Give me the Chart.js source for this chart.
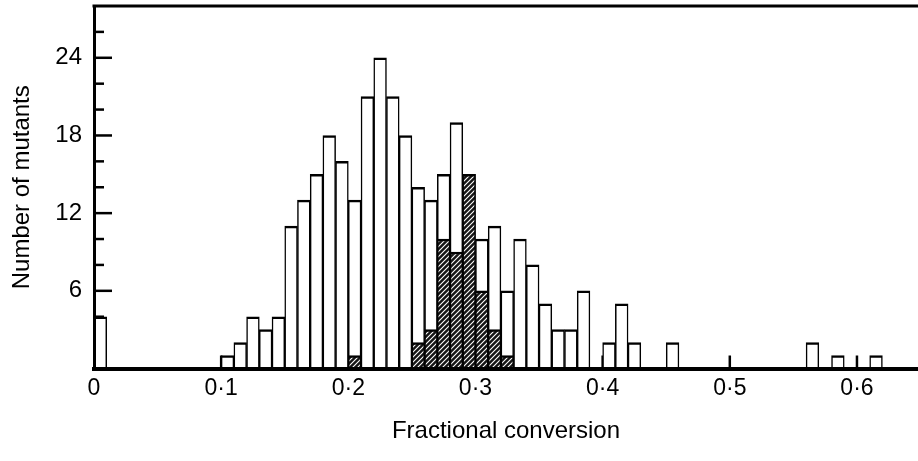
<!DOCTYPE html>
<html>
<head>
<meta charset="utf-8">
<script src="https://cdn.jsdelivr.net/npm/chart.js@4.4.1/dist/chart.umd.min.js"></script>
<style>
    body { margin: 0; background: #fff; }
    #box { width: 918px; height: 461px; }
</style>
</head>
<body>
<div id="box"><canvas id="histograma"></canvas></div>
<script>
// left edge of each 0.01-wide bin that has mutants
const bins = [0.00,
    0.10, 0.11, 0.12, 0.13, 0.14, 0.15, 0.16, 0.17, 0.18, 0.19,
    0.20, 0.21, 0.22, 0.23, 0.24, 0.25, 0.26, 0.27, 0.28, 0.29,
    0.30, 0.31, 0.32, 0.33, 0.34, 0.35, 0.36, 0.37, 0.38,
    0.40, 0.41, 0.42, 0.45, 0.56, 0.58, 0.61];
const todosMutantes = [4,
    1, 2, 4, 3, 4, 11, 13, 15, 18, 16,
    13, 21, 24, 21, 18, 14, 13, 15, 19, 15,
    10, 11, 6, 10, 8, 5, 3, 3, 6,
    2, 5, 2, 2, 2, 1, 1];

// shaded part of the bars
const binsHachurados = [0.20, 0.25, 0.26, 0.27, 0.28, 0.29, 0.30, 0.31, 0.32];
const mutantesHachurados = [1, 2, 3, 10, 9, 15, 6, 3, 1];

const ticksX = [0.1, 0.2, 0.3, 0.4, 0.5, 0.6];
const ticksYMaiores = [6, 12, 18, 24];
const ticksYMenores = [2, 4, 8, 10, 14, 16, 20, 22, 26];

const fonte = '"Liberation Sans", Arial, sans-serif';

const canvas = document.getElementById('histograma');
const ctxPrincipal = canvas.getContext('2d');

function criarHachura() {
    const c = document.createElement('canvas');
    c.width = 5;
    c.height = 5;
    const g = c.getContext('2d');
    g.fillStyle = '#151515';
    g.fillRect(0, 0, 5, 5);
    g.strokeStyle = '#fff';
    g.lineWidth = 1.1;
    g.beginPath();
    g.moveTo(0, 5); g.lineTo(5, 0);
    g.moveTo(-2.5, 2.5); g.lineTo(2.5, -2.5);
    g.moveTo(2.5, 7.5); g.lineTo(7.5, 2.5);
    g.stroke();
    return ctxPrincipal.createPattern(c, 'repeat');
}

function montarPontos(xs, ys) {
    return xs.map((b, i) => ({ x: b + 0.005, y: ys[i] }));
}

// ticks pointing into the plot, drawn under the bars
const marcasInternas = {
    id: 'marcasInternas',
    beforeDatasetsDraw(chart) {
        const { ctx, chartArea, scales: { x, y } } = chart;
        ctx.save();
        ctx.strokeStyle = '#000';
        ctx.lineWidth = 2.5;
        const marcaY = (v, len) => {
            const py = y.getPixelForValue(v);
            ctx.beginPath();
            ctx.moveTo(chartArea.left, py);
            ctx.lineTo(chartArea.left + len, py);
            ctx.stroke();
        };
        ticksYMaiores.forEach(v => marcaY(v, 18));
        ticksYMenores.forEach(v => marcaY(v, 10));
        ticksX.forEach(v => {
            const px = x.getPixelForValue(v);
            ctx.beginPath();
            ctx.moveTo(px, chartArea.bottom);
            ctx.lineTo(px, chartArea.bottom - 13);
            ctx.stroke();
        });
        ctx.restore();
    },
    afterDraw(chart) {
        const { ctx, chartArea } = chart;
        ctx.save();
        ctx.strokeStyle = '#000';
        ctx.lineWidth = 3;
        ctx.beginPath();
        ctx.moveTo(chartArea.left - 1.5, chartArea.top);
        ctx.lineTo(chartArea.right, chartArea.top);
        ctx.stroke();
        ctx.restore();
    }
};

const config = {
    type: 'bar',
    data: {
        datasets: [
            {
                label: 'hachurado',
                data: montarPontos(binsHachurados, mutantesHachurados),
                backgroundColor: criarHachura(),
                borderColor: '#000',
                borderWidth: { left: 1.5, right: 1.5, top: 2.5, bottom: 0 },
                borderSkipped: 'start',
                grouped: false,
                barPercentage: 1,
                categoryPercentage: 1
            },
            {
                label: 'total',
                data: montarPontos(bins, todosMutantes),
                backgroundColor: '#fff',
                borderColor: '#000',
                borderWidth: { left: 1.5, right: 1.5, top: 2.5, bottom: 0 },
                borderSkipped: 'start',
                grouped: false,
                barPercentage: 1,
                categoryPercentage: 1
            }
        ]
    },
    options: {
        responsive: true,
        maintainAspectRatio: false,
        animation: false,
        layout: { padding: { top: 6, right: 0, bottom: 0, left: 0 } },
        plugins: {
            legend: { display: false },
            tooltip: { enabled: false }
        },
        scales: {
            x: {
                type: 'linear',
                min: 0,
                max: 0.648,
                offset: false,
                afterFit: (s) => { s.height = 92.5; s.paddingLeft = 0; s.paddingRight = 0; },
                grid: { display: true, offset: false, drawOnChartArea: false, drawTicks: false },
                border: { display: true, color: '#000', width: 4, z: 1 },
                ticks: {
                    stepSize: 0.1,
                    includeBounds: false,
                    autoSkip: false,
                    maxRotation: 0,
                    padding: 6,
                    color: '#000',
                    font: { family: fonte, size: 23 },
                    callback: (v) => {
                        const d = Math.round(v * 10);
                        return d === 0 ? '0' : '0·' + d;
                    }
                },
                title: {
                    display: true,
                    text: 'Fractional conversion',
                    color: '#000',
                    font: { family: fonte, size: 24 },
                    padding: { top: 0, bottom: 15 }
                }
            },
            y: {
                min: 0,
                max: 28,
                afterFit: (s) => { s.width = 94; s.paddingTop = 0; s.paddingBottom = 0; },
                grid: { display: true, drawOnChartArea: false, drawTicks: false },
                border: { display: true, color: '#000', width: 3, z: 1 },
                ticks: {
                    stepSize: 6,
                    includeBounds: false,
                    autoSkip: false,
                    padding: 12,
                    color: '#000',
                    font: { family: fonte, size: 24 },
                    callback: (v) => ticksYMaiores.includes(v) ? String(v) : ''
                },
                title: {
                    display: true,
                    text: 'Number of mutants',
                    color: '#000',
                    font: { family: fonte, size: 24 },
                    padding: { top: 8, bottom: 0 }
                }
            }
        }
    },
    plugins: [marcasInternas]
};

new Chart(canvas, config);
</script>
</body>
</html>
